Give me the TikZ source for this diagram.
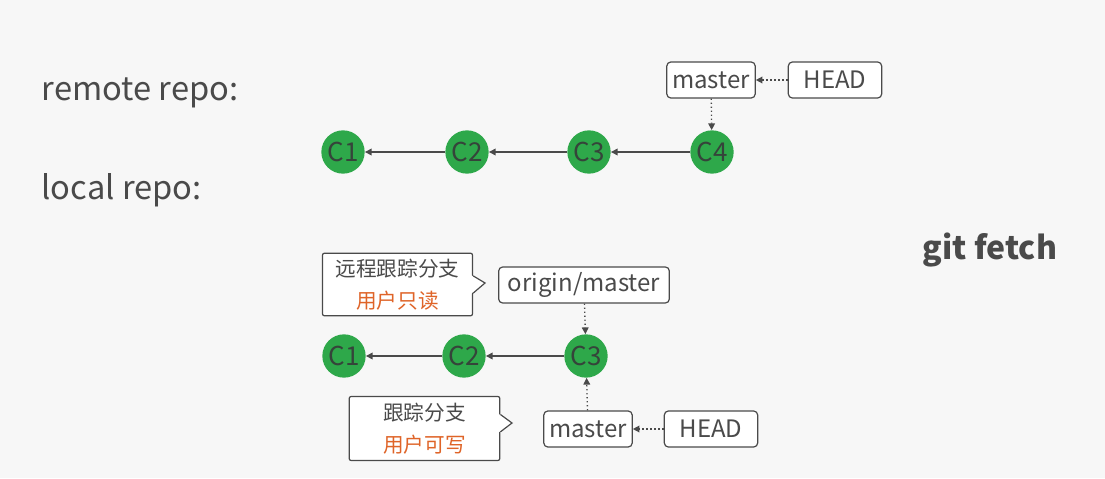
\documentclass[tikz,border=0pt]{standalone}
\usepackage{fontspec}
\setmainfont{Noto Sans CJK SC}
\usetikzlibrary{arrows.meta}
\definecolor{commitgreen}{HTML}{2EA84A}
\definecolor{inkgray}{HTML}{4A4A4A}
\definecolor{commitink}{HTML}{35443A}
\definecolor{noteorange}{HTML}{DF6428}
\definecolor{bggray}{HTML}{F7F7F7}
\tikzset{
  commit/.style={circle,fill=commitgreen,minimum size=32.5pt,inner sep=0pt,
    text=commitink,font=\fontsize{19.5}{19.5}\selectfont},
  ref/.style={draw=inkgray,fill=white,rounded corners=3pt,line width=0.9pt,
    minimum height=27pt,inner xsep=4pt,text=inkgray,font=\fontsize{18}{18}\selectfont},
  parent/.style={draw=inkgray,line width=1pt,-{Triangle[length=5pt,width=5pt]}},
  points/.style={draw=inkgray,line width=1pt,dotted,-{Triangle[length=5pt,width=5pt]}},
  note/.style={draw=inkgray,fill=white,line width=0.9pt,rounded corners=1.5pt,
    align=center,text=inkgray,inner sep=0pt,font=\fontsize{15.5}{24}\selectfont},
  notetip/.style={draw=inkgray,line width=0.9pt,fill=white,line join=miter},
  title/.style={anchor=west,text=inkgray,font=\fontsize{24.5}{24.5}\selectfont},
}
\begin{document}
\begin{tikzpicture}[x=0.75pt,y=-0.75pt]
\fill[bggray] (0,0) rectangle (1105,478);
\useasboundingbox (0,0) rectangle (1105,478);

\node[title] (remotelbl) at (37,93) {remote repo:};
\node[title] (locallbl) at (37,190) {local repo:};
\node[anchor=center,text=inkgray,font=\bfseries\fontsize{24}{24}\selectfont] (cmd) at (990,250) {git fetch};

% remote repository
\node[commit] (rc1) at (343,152) {C1};
\node[commit] (rc2) at (467,152) {C2};
\node[commit] (rc3) at (589,152) {C3};
\node[commit] (rc4) at (712,152) {C4};
\node[ref] (rmaster) at (711,80) {master};
\node[ref,minimum width=70pt] (rhead) at (835,80) {HEAD};
\draw[parent] (rc2) -- (rc1);
\draw[parent] (rc3) -- (rc2);
\draw[parent] (rc4) -- (rc3);
\draw[points] (rmaster) -- (rc4);
\draw[points] (rhead) -- (rmaster);

% local repository
\node[commit] (lc1) at (344,356) {C1};
\node[commit] (lc2) at (464,356) {C2};
\node[commit] (lc3) at (586,356) {C3};
\node[ref,minimum width=128pt] (origin) at (584,285) {origin/master};
\node[ref] (lmaster) at (588,429) {master};
\node[ref,minimum width=70pt] (lhead) at (711,429) {HEAD};
\draw[parent] (lc2) -- (lc1);
\draw[parent] (lc3) -- (lc2);
\draw[points] (origin) -- (lc3);
\draw[points] (lmaster) -- (lc3);
\draw[points] (lhead) -- (lmaster);

% notes with pointers
\node[note,minimum width=112.5pt,minimum height=47pt] (remotenote) at (397.5,284.5)
  {远程跟踪分支\\\textcolor{noteorange}{用户只读}};
\coordinate (remotetip) at (485,283);
\fill[white] ([shift={(-1.5pt,7pt)}]remotenote.east) -- (remotetip) -- ([shift={(-1.5pt,-7pt)}]remotenote.east) -- cycle;
\draw[notetip] ([yshift=6.5pt]remotenote.east) -- (remotetip) -- ([yshift=-6.5pt]remotenote.east);

\node[note,minimum width=113pt,minimum height=48pt] (localnote) at (424.5,428.5)
  {跟踪分支\\\textcolor{noteorange}{用户可写}};
\coordinate (localtip) at (512,423);
\fill[white] ([shift={(-1.5pt,11pt)}]localnote.east) -- (localtip) -- ([shift={(-1.5pt,-3pt)}]localnote.east) -- cycle;
\draw[notetip] ([yshift=10.5pt]localnote.east) -- (localtip) -- ([yshift=-2.5pt]localnote.east);
\end{tikzpicture}
\end{document}
